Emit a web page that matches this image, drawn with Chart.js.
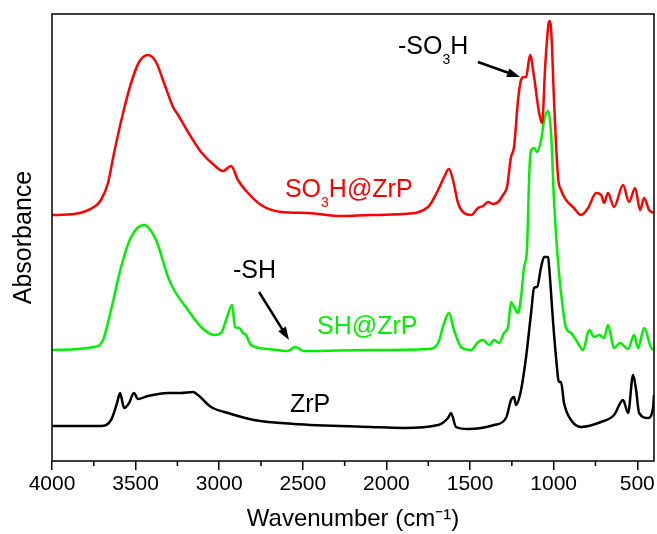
<!DOCTYPE html>
<html>
<head>
<meta charset="utf-8">
<script src="https://cdn.jsdelivr.net/npm/chart.js@4.4.0/dist/chart.umd.min.js"></script>
<style>
  body { margin: 0; background: #fff; }
</style>
</head>
<body>
<canvas id="grafik" width="657" height="534"></canvas>
<script>
const tickLabels = [4000, 3500, 3000, 2500, 2000, 1500, 1000, 500];
const minorTicks = [3750, 3250, 2750, 2250, 1750, 1250, 750];

// SO3H@ZrP (red)
const redWn = [4000,3868,3749,3707,3665,3629,3575,3527,3479,3426,3378,3330,3276,3246,3187,3109,3031,2977,2929,2888,
  2828,2750,2630,2469,2271,2092,1900,1751,1691,1655,1626,1602,1572,1536,1494,1452,1422,1392,1362,1332,
  1303,1279,1255,1237,1213,1195,1177,1165,1141,1117,1087,1069,1051,1033,1027,1015,998,974,956,926,
  884,836,794,746,716,698,675,639,585,549,513,483,459,429,400];
const redAbs = [2.46,2.47,2.54,2.61,2.78,3.08,3.48,3.78,3.99,4.06,3.99,3.78,3.54,3.46,3.29,3.09,2.96,2.90,2.95,2.81,
  2.68,2.56,2.49,2.48,2.45,2.46,2.47,2.54,2.71,2.84,2.92,2.81,2.58,2.48,2.46,2.53,2.55,2.59,2.57,2.59,
  2.66,2.74,3.04,3.14,3.61,3.81,3.84,3.84,4.06,3.84,3.48,3.38,3.94,4.34,4.40,4.31,3.61,2.84,2.71,2.61,
  2.54,2.46,2.53,2.68,2.66,2.58,2.68,2.54,2.76,2.59,2.73,2.51,2.63,2.51,2.48];

// SH@ZrP (green)
const greenWn = [4000,3749,3695,3647,3587,3527,3450,3378,3306,3270,3187,3109,3031,2989,2959,2923,2905,2881,2858,2840,
  2810,2708,2588,2547,2493,2092,1751,1691,1655,1626,1596,1554,1494,1452,1422,1386,1356,1326,1297,1273,
  1255,1237,1213,1195,1177,1160,1145,1135,1117,1099,1075,1057,1033,1015,998,974,944,926,896,866,
  824,788,758,728,698,675,639,603,555,519,495,459,417,400];
const greenAbs = [1.11,1.14,1.21,1.51,1.94,2.24,2.36,2.21,1.84,1.71,1.51,1.34,1.26,1.28,1.41,1.56,1.34,1.33,1.28,1.26,
  1.16,1.12,1.10,1.14,1.10,1.11,1.12,1.18,1.38,1.48,1.31,1.14,1.11,1.19,1.21,1.16,1.21,1.18,1.28,1.34,
  1.59,1.54,1.48,1.64,1.94,2.11,2.91,3.11,3.13,3.09,3.21,3.41,3.50,3.26,2.61,1.99,1.51,1.33,1.28,1.21,
  1.11,1.31,1.24,1.26,1.23,1.36,1.13,1.18,1.12,1.26,1.13,1.33,1.13,1.11];

// ZrP (black)
const blackWn = [4000,3707,3647,3611,3593,3569,3539,3510,3486,3426,3306,3228,3157,3127,3049,2947,2792,2553,2092,1900,
  1691,1632,1614,1584,1512,1356,1285,1255,1237,1225,1195,1165,1135,1117,1099,1075,1057,1033,1027,1003,
  986,968,956,938,896,836,717,639,585,555,525,507,489,435,405,400];
const blackAbs = [0.35,0.35,0.41,0.58,0.68,0.53,0.58,0.68,0.62,0.65,0.68,0.68,0.69,0.66,0.54,0.48,0.41,0.37,0.34,0.33,
  0.36,0.43,0.48,0.34,0.32,0.36,0.43,0.61,0.64,0.56,0.71,1.04,1.48,1.73,1.74,1.94,2.04,2.04,1.94,1.38,
  1.04,0.79,0.79,0.58,0.41,0.34,0.39,0.46,0.61,0.48,0.86,0.71,0.48,0.43,0.54,0.66];

// text on the plot, placed in data units: [text, subscript?]
const notes = [
  { parts: [['SO', 0], ['3', 1], ['H@ZrP', 0]], x: 2607, y: 2.64, color: '#ff0000' },
  { parts: [['-SO', 0], ['3', 1], ['H', 0]], x: 1931, y: 4.07, color: '#000' },
  { parts: [['-SH', 0]], x: 2918, y: 1.83, color: '#000' },
  { parts: [['SH@ZrP', 0]], x: 2415, y: 1.27, color: '#00f000' },
  { parts: [['ZrP', 0]], x: 2577, y: 0.49, color: '#000' }
];
const arrows = [
  { from: [1453, 3.99], to: [1201, 3.84] },
  { from: [2762, 1.69], to: [2583, 1.21] }
];

const FONT = "'Liberation Sans', Arial, sans-serif";
Chart.defaults.font.family = FONT;
Chart.defaults.color = '#000';

function pts(xs, ys) {
  return xs.map((w, i) => ({ x: w, y: ys[i] }));
}

function drawParts(ctx, parts, x, y, color) {
  ctx.fillStyle = color;
  ctx.textAlign = 'left';
  ctx.textBaseline = 'alphabetic';
  parts.forEach(([t, sub]) => {
    ctx.font = (sub ? '14px ' : '25px ') + FONT;
    ctx.fillText(t, x, sub ? y + 10 : y);
    x += ctx.measureText(t).width;
  });
}

const extras = {
  id: 'extras',
  afterDraw(chart) {
    const { ctx, chartArea: a, scales: { x, y } } = chart;
    ctx.save();
    ctx.strokeStyle = '#000';
    ctx.lineWidth = 1.5;
    ctx.strokeRect(a.left, a.top, a.right - a.left, a.bottom - a.top);

    ctx.beginPath();
    minorTicks.forEach(v => {
      const px = x.getPixelForValue(v);
      ctx.moveTo(px, a.bottom);
      ctx.lineTo(px, a.bottom + 5);
    });
    ctx.stroke();

    arrows.forEach(ar => {
      const x1 = x.getPixelForValue(ar.from[0]), y1 = y.getPixelForValue(ar.from[1]);
      const x2 = x.getPixelForValue(ar.to[0]), y2 = y.getPixelForValue(ar.to[1]);
      const ang = Math.atan2(y2 - y1, x2 - x1);
      const head = 13;
      ctx.lineWidth = 2.5;
      ctx.beginPath();
      ctx.moveTo(x1, y1);
      ctx.lineTo(x2 - Math.cos(ang) * head * 0.8, y2 - Math.sin(ang) * head * 0.8);
      ctx.stroke();
      ctx.fillStyle = '#000';
      ctx.beginPath();
      ctx.moveTo(x2, y2);
      ctx.lineTo(x2 - head * Math.cos(ang) + 4.5 * Math.sin(ang), y2 - head * Math.sin(ang) - 4.5 * Math.cos(ang));
      ctx.lineTo(x2 - head * Math.cos(ang) - 4.5 * Math.sin(ang), y2 - head * Math.sin(ang) + 4.5 * Math.cos(ang));
      ctx.closePath();
      ctx.fill();
    });

    notes.forEach(n => {
      drawParts(ctx, n.parts, x.getPixelForValue(n.x), y.getPixelForValue(n.y), n.color);
    });
    ctx.restore();
  }
};

const ctx = document.getElementById('grafik').getContext('2d');

const chart = new Chart(ctx, {
  type: 'line',
  data: {
    datasets: [
      { label: 'SO3H@ZrP', data: pts(redWn, redAbs), borderColor: '#ff0000' },
      { label: 'SH@ZrP', data: pts(greenWn, greenAbs), borderColor: '#00f000' },
      { label: 'ZrP', data: pts(blackWn, blackAbs), borderColor: '#000000' }
    ]
  },
  options: {
    responsive: false,
    animation: false,
    devicePixelRatio: 1,
    layout: { padding: { top: 14, right: 3, left: 0, bottom: 0 } },
    elements: {
      point: { radius: 0 },
      line: { borderWidth: 2.5, cubicInterpolationMode: 'monotone', fill: false, borderJoinStyle: 'round' }
    },
    plugins: { legend: { display: false }, tooltip: { enabled: false } },
    scales: {
      x: {
        type: 'linear',
        reverse: true,
        min: 400,
        max: 4000,
        afterFit(scale) { scale.height = 73; },
        border: { display: false },
        grid: { drawOnChartArea: false, drawTicks: true, tickLength: 9, color: '#000', lineWidth: 1.5 },
        afterBuildTicks(scale) { scale.ticks = tickLabels.map(v => ({ value: v })); },
        ticks: {
          includeBounds: false,
          stepSize: 500,
          autoSkip: false,
          maxRotation: 0,
          padding: 2,
          font: { size: 21 },
          callback: v => String(v)
        },
        title: {
          display: true,
          text: 'Wavenumber (cm⁻¹)',
          font: { size: 24 },
          padding: { top: 0, bottom: 0 }
        }
      },
      y: {
        min: 0,
        max: 4.47,
        afterFit(scale) { scale.width = 52; },
        border: { display: false },
        grid: { display: false },
        ticks: { display: false },
        title: {
          display: true,
          text: 'Absorbance',
          font: { size: 25 },
          padding: { top: 9, bottom: 0 }
        }
      }
    }
  },
  plugins: [extras]
});
</script>
</body>
</html>
